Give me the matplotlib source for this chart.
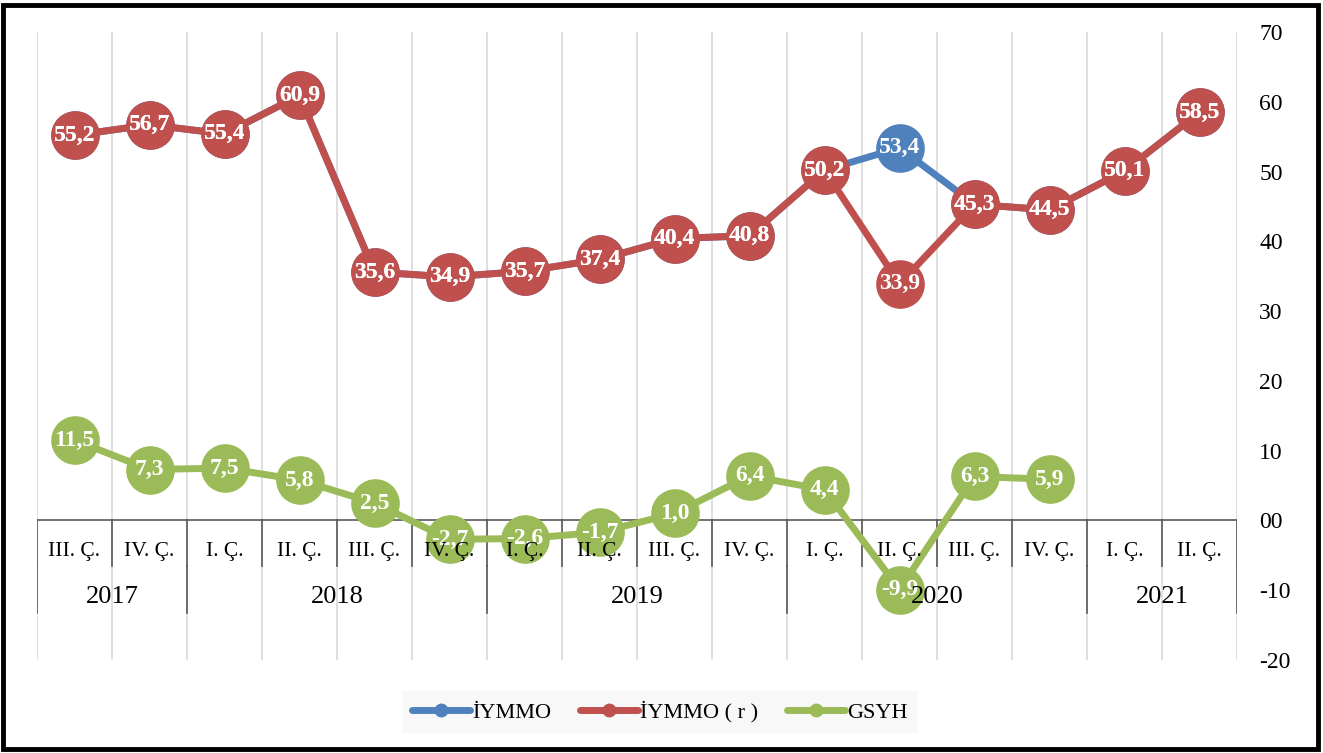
import matplotlib
matplotlib.use("Agg")
import matplotlib.pyplot as plt
import numpy as np
from matplotlib.patches import Rectangle
from matplotlib.lines import Line2D

# ---------------- data ----------------
quarters = ["III. Ç.", "IV. Ç.", "I. Ç.", "II. Ç.", "III. Ç.", "IV. Ç.",
            "I. Ç.", "II. Ç.", "III. Ç.", "IV. Ç.", "I. Ç.", "II. Ç.",
            "III. Ç.", "IV. Ç.", "I. Ç.", "II. Ç."]
years = ["2017", "2018", "2019", "2020", "2021"]
year_spans = [(0, 1), (2, 5), (6, 9), (10, 13), (14, 15)]
iymmo = [55.2, 56.7, 55.4, 60.9, 35.6, 34.9, 35.7, 37.4, 40.4, 40.8,
         50.2, 53.4, 45.3, 44.5, 50.1, 58.5]
iymmo_r = [55.2, 56.7, 55.4, 60.9, 35.6, 34.9, 35.7, 37.4, 40.4, 40.8,
           50.2, 33.9, 45.3, 44.5, 50.1, 58.5]
gsyh = [11.5, 7.3, 7.5, 5.8, 2.5, -2.7, -2.6, -1.7, 1.0, 6.4,
        4.4, -9.9, 6.3, 5.9, np.nan, np.nan]
yticks = [70, 60, 50, 40, 30, 20, 10, 0, -10, -20]
ytick_labels = ["70", "60", "50", "40", "30", "20", "10", "00", "-10", "-20"]
series_names = ["İYMMO", "İYMMO ( r )", "GSYH"]

# ---------------- style ----------------
C_BLUE = "#4F81BD"
C_RED = "#C0504D"
C_GREEN = "#9BBB59"
SERIF = "Liberation Serif"

fig = plt.figure(figsize=(13.23, 7.53), dpi=100)
ax = fig.add_axes([37 / 1323, 1 - 660 / 753, 1200 / 1323, 628 / 753])

x = np.arange(len(quarters))
ax.set_xlim(-0.5, len(quarters) - 0.5)
ax.set_ylim(-20, 70)

# vertical gridlines at category boundaries
for b in np.arange(-0.5, len(quarters), 1.0):
    ax.axvline(b, color="#d9d9d9", lw=1.2, zorder=0)

# category axis at zero
ax.axhline(0, color="#595959", lw=1.2, zorder=1)
q_bottom = -6.6
y_bottom = -13.2
for b in np.arange(-0.5, len(quarters), 1.0):
    ax.plot([b, b], [0, q_bottom], color="#595959", lw=1.2, zorder=1)
year_bounds = [-0.5] + [s[1] + 0.5 for s in year_spans]
for b in year_bounds:
    ax.plot([b, b], [q_bottom, y_bottom], color="#595959", lw=1.2, zorder=1)

# series
ms = 34
lw = 5
ax.plot(x, iymmo, color=C_BLUE, lw=lw, marker="o", ms=ms, zorder=3,
        solid_capstyle="round")
ax.plot(x, iymmo_r, color=C_RED, lw=lw, marker="o", ms=ms, zorder=4,
        solid_capstyle="round")
ax.plot(x, gsyh, color=C_GREEN, lw=lw, marker="o", ms=ms, zorder=4,
        solid_capstyle="round")

def fmt(v):
    return ("%.1f" % v).replace(".", ",")

for series, z in ((iymmo, 5), (iymmo_r, 6), (gsyh, 6)):
    for xi, v in zip(x, series):
        if np.isnan(v):
            continue
        ax.text(xi, v, fmt(v), ha="center", va="center", color="white",
                fontsize=17, fontweight="bold", family=SERIF, zorder=z)

# category labels
for xi, q in zip(x, quarters):
    ax.text(xi, -4.5, q, ha="center", va="center", fontsize=15.5,
            family=SERIF, color="black", zorder=8)
for (a, b), yname in zip(year_spans, years):
    ax.text((a + b) / 2, -11.0, yname, ha="center", va="center", fontsize=19,
            family=SERIF, color="black", zorder=8)

# y axis on right
ax.yaxis.tick_right()
ax.set_yticks(yticks)
ax.set_yticklabels(ytick_labels, family=SERIF, fontsize=17)
ax.tick_params(axis="y", length=0, pad=16)
ax.set_xticks([])
for s in ax.spines.values():
    s.set_visible(False)

# legend
handles = [Line2D([0], [0], color=c, lw=5, marker="o", ms=9,
                  solid_capstyle="round")
           for c in (C_BLUE, C_RED, C_GREEN)]
leg = fig.legend(handles, series_names, loc="center",
                 bbox_to_anchor=(660 / 1323, 1 - 712 / 753), ncol=3,
                 frameon=True, prop={"family": SERIF, "size": 16},
                 handlelength=2.6, handletextpad=0.1, columnspacing=1.3,
                 borderpad=0.45, borderaxespad=0)
leg.get_frame().set_facecolor("#f7f7f7")
leg.get_frame().set_edgecolor("none")
leg.get_frame().set_boxstyle("square", pad=0)

# figure border
fig.patches.append(Rectangle((3 / 1323, 4 / 753), 1315 / 1323, 744 / 753,
                             transform=fig.transFigure, fill=False,
                             edgecolor="black", lw=3.5))

fig.savefig("out.png", dpi=100)
